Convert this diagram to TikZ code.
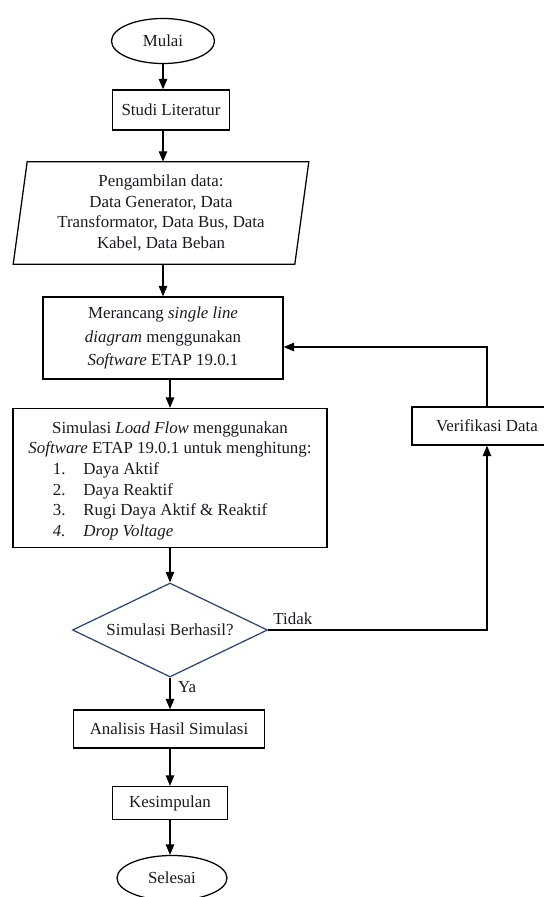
\documentclass[tikz,border=0pt]{standalone}
\usepackage{fontspec}
\setmainfont{Liberation Serif}
\usetikzlibrary{shapes.geometric, arrows.meta, positioning, calc}
\definecolor{tepi}{RGB}{47,72,107}
\definecolor{teks}{RGB}{25,25,35}

\begin{document}
\begin{tikzpicture}[x=0.025cm, y=-0.025cm,
    every node/.style={font=\fontsize{12}{14.6}\selectfont, text=teks},
    proses/.style={draw, rectangle, line width=0.9pt, align=center, inner sep=2pt},
    terminal/.style={draw, ellipse, line width=0.9pt, inner sep=0pt},
    panah/.style={-{Triangle[length=2.6mm,width=2.1mm]}, line width=0.9pt}]
    \useasboundingbox (0,0) rectangle (544,897);
    \clip (0,0) rectangle (544,897);

    \node[terminal, minimum width=2.575cm, minimum height=1.125cm] (mulai) at (163,41) {Mulai};
    \node[proses, minimum width=2.925cm, minimum height=1cm] (studi) at (171,110) {Studi Literatur};

    \node[align=center, minimum width=7.025cm, minimum height=2.55cm, inner sep=0pt] (ambil) at (161,213) {Pengambilan data:\\ Data Generator, Data\\ Transformator, Data Bus, Data\\ Kabel, Data Beban};
    \draw[line width=0.9pt] ($(ambil.south west)+(-7,0)$) -- ($(ambil.north west)+(7,0)$) -- ($(ambil.north east)+(7,0)$) -- ($(ambil.south east)+(-7,0)$) -- cycle;

    \node[proses, minimum width=6cm, minimum height=2.05cm, font=\fontsize{12}{16.7}\selectfont] (rancang) at (163,338) {Merancang \textit{single line}\\ \textit{diagram} menggunakan\\ \textit{Software} ETAP 19.0.1};

    \node[proses, minimum width=7.85cm, minimum height=3.475cm] (simulasi) at (170,478) {\rule{0pt}{14pt}Simulasi \textit{Load Flow} menggunakan\\ \textit{Software} ETAP 19.0.1 untuk menghitung:\\
        \begin{tabular}[t]{@{}l@{\hspace{0.45cm}}l@{}}
            1. & Daya Aktif\\
            2. & Daya Reaktif\\
            3. & Rugi Daya Aktif \& Reaktif\\
            \textit{4.} & \textit{Drop Voltage}
        \end{tabular}\hspace*{0.5cm}};

    \node[proses, minimum width=3.75cm, minimum height=0.95cm] (verif) at (487,426) {Verifikasi Data};
    \node[draw=tepi, diamond, line width=0.9pt, minimum width=4.875cm, minimum height=2.35cm, inner sep=0pt, aspect=2.07] (cek) at (170,630) {Simulasi Berhasil?};

    \node[proses, minimum width=4.775cm, minimum height=0.95cm] (analisis) at (169,729) {Analisis Hasil Simulasi};
    \node[proses, minimum width=2.875cm, minimum height=0.825cm] (simpul) at (170,803) {Kesimpulan};
    \node[terminal, minimum width=2.75cm, minimum height=1.125cm] (selesai) at (172,878) {Selesai};

    % alur utama
    \draw[panah] (mulai.south) -- (studi.north -| mulai.south);
    \draw[panah] (studi.south -| mulai.south) -- (ambil.north -| mulai.south);
    \draw[panah] (ambil.south -| rancang) -- (rancang.north);
    \draw[panah] (rancang.south -| simulasi) -- (simulasi.north);
    \draw[panah] (simulasi.south) -- (cek.north);
    \draw[panah] (cek.south) -- node[right, pos=0.3, xshift=2pt]{Ya} (cek.south |- analisis.north);
    \draw[panah] (analisis.south -| simpul) -- (simpul.north);
    \draw[panah] (simpul.south) -- (selesai.north -| simpul.south);

    % umpan balik
    \draw[panah] (cek.east) node[above right]{Tidak} -| (verif.south);
    \draw[panah] (verif.north) |- ([yshift=-0.225cm]rancang.east);
\end{tikzpicture}
\end{document}
